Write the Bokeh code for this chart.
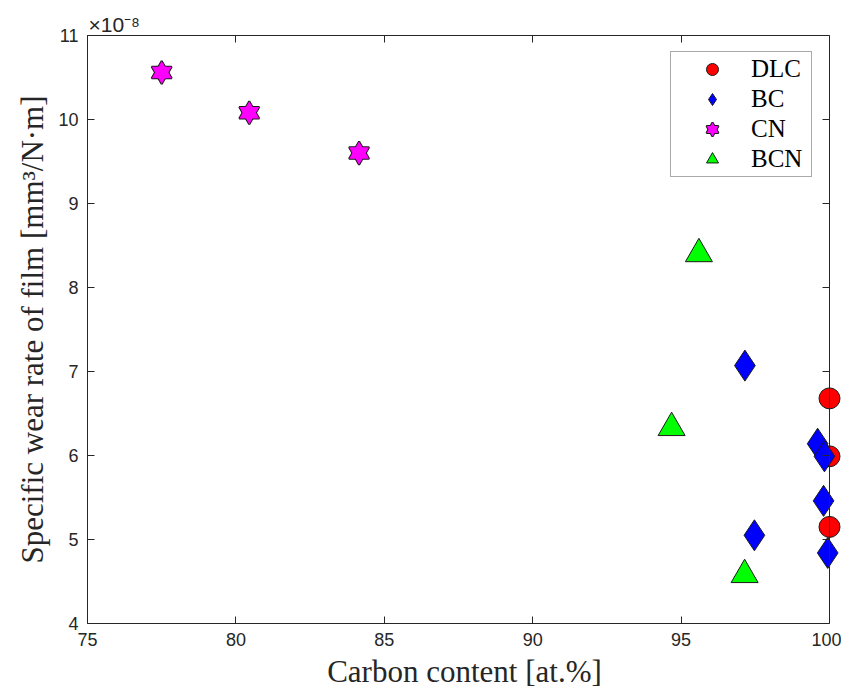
from bokeh.plotting import figure
from bokeh.models import (Range1d, FixedTicker, LinearAxis, Legend, LegendItem,
                          ColumnDataSource)
from bokeh.embed import file_html
from bokeh.resources import INLINE

# ---- data ----
dlc_x = [100.0, 100.0, 100.0]
dlc_y = [6.68, 5.99, 5.15]

bc_x = [97.15, 97.47, 99.6, 99.83, 99.8, 99.94]
bc_y = [7.07, 5.05, 6.14, 5.99, 5.46, 4.84]

cn_x = [77.5, 80.45, 84.15]
cn_y = [10.56, 10.08, 9.60]

bcn_x = [95.6, 94.68, 97.14]
bcn_y = [8.40, 6.33, 4.58]

x_ticks = [75, 80, 85, 90, 95, 100]
y_ticks = [4, 5, 6, 7, 8, 9, 10, 11]

X_MIN, X_MAX = 75, 100
Y_MIN, Y_MAX = 4, 11

AX = "#262626"
SANS = "Liberation Sans"
SERIF = "Liberation Serif"

# axes box is 742 px wide for 75..100; the frame is a little wider so that
# markers sitting on x = 100 are not cut off (as in the reference)
BOX_W = 742
FRAME_W = 754
X_END = X_MIN + (X_MAX - X_MIN) * FRAME_W / BOX_W

p = figure(frame_width=FRAME_W, frame_height=588,
           x_range=Range1d(X_MIN, X_END), y_range=Range1d(Y_MIN, Y_MAX),
           output_backend="svg", toolbar_location=None,
           x_axis_location=None, y_axis_location=None,
           min_border_left=87, min_border_top=35, min_border_right=0, min_border_bottom=68,
           background_fill_color="white", border_fill_color="white")
p.grid.visible = False
p.outline_line_color = None

# exponent of the y axis, shown above the top-left corner
p.title.text = "×10⁻⁸"
p.title.align = "left"
p.title.offset = 1
p.title.standoff = 0
p.title.text_font = SANS
p.title.text_font_size = "21px"
p.title.text_font_style = "normal"
p.title.text_color = AX


def make_axis(ticks, show_labels, label=None):
    ax = LinearAxis(ticker=FixedTicker(ticks=ticks))
    ax.axis_line_color = AX
    ax.axis_line_width = 1
    ax.major_tick_line_color = AX
    ax.major_tick_in = 7
    ax.major_tick_out = 0
    ax.minor_tick_line_color = None
    if show_labels:
        ax.major_label_text_font = SANS
        ax.major_label_text_font_size = "18px"
        ax.major_label_text_color = AX
        ax.major_label_standoff = 9
        ax.axis_label = label
        ax.axis_label_text_font = SERIF
        ax.axis_label_text_font_size = "31px"
        ax.axis_label_text_font_style = "normal"
        ax.axis_label_text_color = AX
        ax.axis_label_standoff = 5
    else:
        ax.major_label_overrides = {t: "" for t in ticks}
        ax.major_label_standoff = 0
    return ax


xb = make_axis(x_ticks, True, "Carbon content [at.%]")
xb.bounds = (X_MIN, X_MAX)
p.add_layout(xb, "below")
xt = make_axis(x_ticks, False)
xt.bounds = (X_MIN, X_MAX)
p.add_layout(xt, "above")

yl = make_axis(y_ticks, True, "Specific wear rate of film [mm³/N·m]")
p.add_layout(yl, "left")
yr = make_axis(y_ticks, False)
yr.fixed_location = X_MAX
p.add_layout(yr, "right")

# ---- data marks ----
src_dlc = ColumnDataSource(dict(x=dlc_x, y=dlc_y))
src_bc = ColumnDataSource(dict(x=bc_x, y=bc_y))
src_cn = ColumnDataSource(dict(x=cn_x, y=cn_y))
src_bcn = ColumnDataSource(dict(x=bcn_x, y=bcn_y))

EDGE = "#1a1a1a"
r_dlc = p.scatter("x", "y", source=src_dlc, marker="circle", size=21,
                  fill_color="#FF0000", line_color=EDGE, line_width=1)
r_bc = p.scatter("x", "y", source=src_bc, marker="diamond", size=31,
                 fill_color="#0000FF", line_color=EDGE, line_width=1)
# hexagram = up triangle + down triangle (outlines first, then fills on top)
r_cn1 = p.scatter("x", "y", source=src_cn, marker="triangle", size=20,
                  fill_color="#FF00FF", line_color=EDGE, line_width=2)
r_cn2 = p.scatter("x", "y", source=src_cn, marker="inverted_triangle", size=20,
                  fill_color="#FF00FF", line_color=EDGE, line_width=2)
r_cn3 = p.scatter("x", "y", source=src_cn, marker="triangle", size=20,
                  fill_color="#FF00FF", line_color=None)
r_cn4 = p.scatter("x", "y", source=src_cn, marker="inverted_triangle", size=20,
                  fill_color="#FF00FF", line_color=None)
r_bcn = p.scatter("x", "y", source=src_bcn, marker="triangle", size=27,
                  fill_color="#00FF00", line_color=EDGE, line_width=1)

legend = Legend(items=[
    LegendItem(label="DLC", renderers=[r_dlc]),
    LegendItem(label="BC", renderers=[r_bc]),
    LegendItem(label="CN", renderers=[r_cn1, r_cn2, r_cn3, r_cn4]),
    LegendItem(label="BCN", renderers=[r_bcn]),
], location=(583, 446))
legend.margin = 0
legend.padding = 2
legend.glyph_width = 78
legend.glyph_height = 30
legend.spacing = 0
legend.label_standoff = 0
legend.label_width = 58
legend.label_height = 28
legend.label_text_font = SERIF
legend.label_text_font_size = "25px"
legend.label_text_color = "#000000"
legend.border_line_color = "#555555"
legend.border_line_width = 1
legend.background_fill_color = "white"
legend.background_fill_alpha = 1.0
p.add_layout(legend)

open("out.html", "w").write(file_html(p, INLINE))
